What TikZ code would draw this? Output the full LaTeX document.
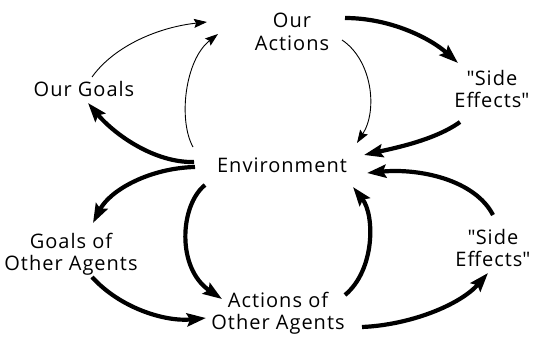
\documentclass[tikz,border=0pt]{standalone}
\usepackage{fontspec}
\setmainfont{Open Sans}[LetterSpace=5]
\usetikzlibrary{arrows.meta}
\begin{document}
\begin{tikzpicture}[x=1pt,y=-1pt,
  lbl/.style={font=\fontsize{20}{22.5}\selectfont, align=center, inner sep=0pt},
  thick arrow/.style={line width=4.2pt, -{Stealth[length=19pt,width=13pt,inset=3pt]}},
  thin arrow/.style={line width=0.9pt, -{Stealth[length=13pt,width=9pt,inset=2pt]}}]
\useasboundingbox (0,0) rectangle (535,339);
\node[lbl] (act) at (292,32) {Our\\Actions};
\node[lbl] (goals) at (84,89) {Our Goals};
\node[lbl] (se1) at (492,89) {\textquotedbl Side\\Effects\textquotedbl};
\node[lbl] (env) at (282,165) {Environment};
\node[lbl] (goa) at (71,254) {Goals of\\Other Agents};
\node[lbl] (aoa) at (278,313) {Actions of\\Other Agents};
\node[lbl] (se2) at (493,248) {\textquotedbl Side\\Effects\textquotedbl};
% thin
\draw[thin arrow] ([shift={(8,-12)}]goals.center) .. controls (115,45) and (160,27) .. ([shift={(-85,-10)}]act.center);
\draw[thin arrow] ([shift={(-89,-18)}]env.center) .. controls (178,120) and (185,60) .. ([shift={(-74,2)}]act.center);
\draw[thin arrow] ([shift={(50,8)}]act.center) .. controls (372,60) and (378,110) .. ([shift={(75,-22)}]env.center);
% thick
\draw[thick arrow] ([shift={(53,-14)}]act.center) .. controls (390,18) and (430,38) .. ([shift={(-34,-26)}]se1.center);
\draw[thick arrow] ([shift={(-32,33)}]se1.center) .. controls (435,140) and (395,148) .. ([shift={(82,-10)}]env.center);
\draw[thick arrow] ([shift={(-88,-3)}]env.center) .. controls (155,163) and (115,135) .. ([shift={(4,14)}]goals.center);
\draw[thick arrow] ([shift={(-87,2)}]env.center) .. controls (150,168) and (110,190) .. ([shift={(22,-31)}]goa.center);
\draw[thick arrow] ([shift={(-77,20)}]env.center) .. controls (180,205) and (176,268) .. ([shift={(-56,-14)}]aoa.center);
\draw[thick arrow] ([shift={(21,23)}]goa.center) .. controls (120,308) and (165,322) .. ([shift={(-72,5)}]aoa.center);
\draw[thick arrow] ([shift={(67,-18)}]aoa.center) .. controls (375,270) and (375,215) .. ([shift={(71,22)}]env.center);
\draw[thick arrow] ([shift={(84,14)}]aoa.center) .. controls (410,325) and (460,305) .. ([shift={(-5,25)}]se2.center);
\draw[thick arrow] ([shift={(0,-33)}]se2.center) .. controls (475,180) and (420,168) .. ([shift={(85,8)}]env.center);
\end{tikzpicture}
\end{document}
